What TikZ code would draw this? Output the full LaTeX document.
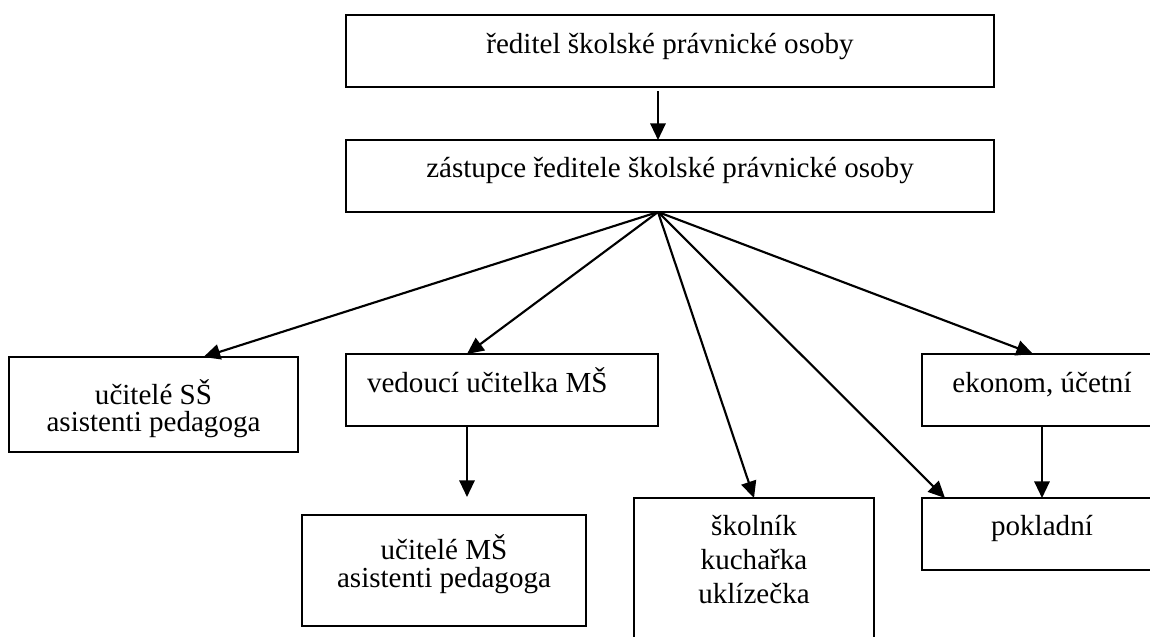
\documentclass[tikz,border=0pt]{standalone}
\usepackage{fontspec}
\setmainfont{Liberation Serif}
\usetikzlibrary{arrows.meta,calc}
\newlength\pxu
\setlength\pxu{0.75pt}
% width, height, first-baseline offset, line spacing, text
\newcommand\bt[5]{\parbox[c][#2\pxu][t]{#1\pxu}{\fontsize{21.8pt}{#4\pxu}\selectfont\centering\rule{0pt}{#3\pxu}#5\par}}
\begin{document}
\begin{tikzpicture}[x=0.75pt,y=-0.75pt,
  box/.style={draw, line width=1.5pt, inner sep=0pt, outer sep=0pt, anchor=north west},
  arr/.style={line width=1.6pt, -{Triangle[length=12.5pt,width=11.5pt]}}]
\useasboundingbox[fill=white] (0,0) rectangle (1150,636);
\node[box] (b1) at (346,15)  {\bt{648}{72}{38}{27}{ředitel školské právnické osoby}};
\node[box] (b2) at (346,140) {\bt{648}{72}{37}{27}{zástupce ředitele školské právnické osoby}};
\node[box] (b3) at (9,357)   {\bt{289}{95}{47}{27}{učitelé SŠ\\asistenti pedagoga}};
\node[box] (b4) at (346,354) {\bt{312}{72}{38}{27}{\raggedright\hspace*{21\pxu}vedoucí učitelka MŠ}};
\node[box] (b5) at (922,354) {\bt{240}{72}{38}{27}{ekonom, účetní}};
\node[box] (b6) at (302,515) {\bt{284}{111}{44}{28}{učitelé MŠ\\asistenti pedagoga}};
\node[box] (b7) at (634,498) {\bt{240}{145}{37}{34}{školník\\kuchařka\\uklízečka}};
\node[box] (b8) at (922,498) {\bt{240}{72}{37}{27}{pokladní}};
\coordinate (hub) at ($(b2.south)+(-12,0)$);
\coordinate (e4) at ($(b4.south)+(-35,71)$);
\draw[arr] ($(b1.south)+(-12,4)$) -- ($(b2.north)+(-12,0)$);
\draw[arr] (hub) -- ($(b3.north)+(50,0)$);
\draw[arr] (hub) -- ($(b4.north)+(-35,0)$);
\draw[arr] (hub) -- (b7.north);
\draw[arr] (hub) -- ($(b8.north west)+(23,0)$);
\draw[arr] (hub) -- ($(b5.north)+(-9,0)$);
\draw[arr] ($(b4.south)+(-35,0)$) -- (e4);
\draw[arr] (b5.south) -- (b8.north);
\end{tikzpicture}
\end{document}
